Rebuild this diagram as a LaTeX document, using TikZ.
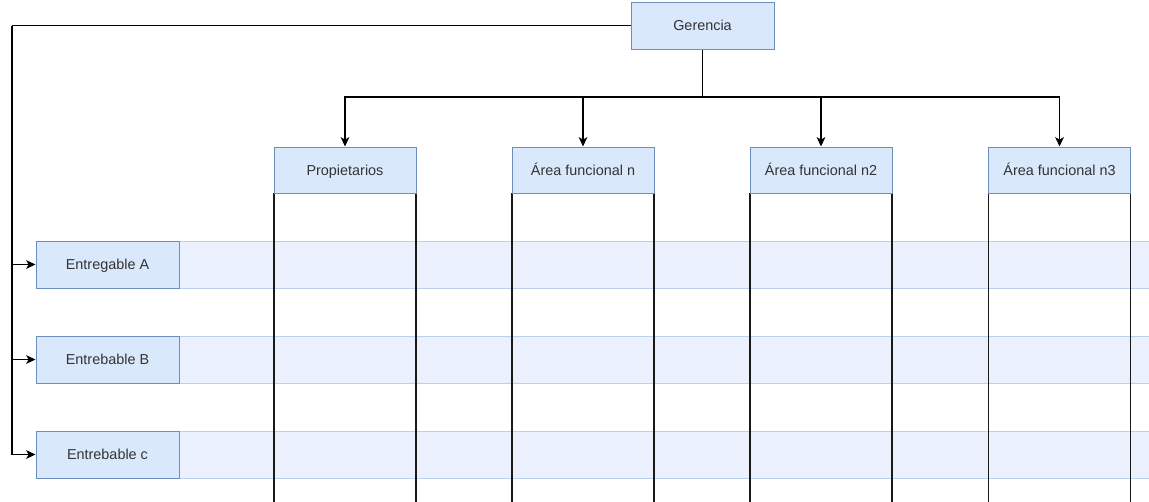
\documentclass[tikz,border=0pt]{standalone}
\usepackage{fontspec}
\setmainfont{Liberation Sans}
\usetikzlibrary{arrows.meta}
\definecolor{boxfill}{HTML}{DAE8FC}
\definecolor{boxline}{HTML}{6C8EBF}
\definecolor{bandfill}{HTML}{EAF1FC}
\definecolor{bandline}{HTML}{BCD0EB}
\definecolor{txt}{HTML}{333333}
\tikzset{
  px/.style={x=0.75pt,y=-0.75pt},
  bluebox/.style={draw=boxline,fill=boxfill,line width=0.75pt,text=txt,
    font=\fontsize{10.8}{13}\selectfont,inner sep=0pt,
    text height=8.5pt,text depth=0.7pt},
  header/.style={bluebox,minimum width=106.5pt,minimum height=34.5pt},
  rowbox/.style={bluebox,minimum width=107.25pt,minimum height=35.25pt},
  band/.style={draw=bandline,fill=bandfill,line width=0.75pt},
  colline/.style={draw=black!90,line width=0.9pt},
  link/.style={draw=black,line width=0.9pt},
  arrowlink/.style={link,-{Stealth[length=7pt,width=6.5pt,inset=1.8pt]}},
}
\begin{document}
\begin{tikzpicture}[px]
\useasboundingbox (0,0) rectangle (1149,501);
\clip (0,0) rectangle (1149,501);

% horizontal bands for each deliverable
\foreach \yc in {264.5,359.5,454.5}
  \path[band] (179,\yc-23.5) rectangle (1160,\yc+23.5);

% column bodies below the headers
\foreach \xc in {345,583,821,1059.5}{
  \draw[colline] (\xc-71,193) -- (\xc-71,510);
  \draw[colline] (\xc+71,193) -- (\xc+71,510);
}

% top node
\node[bluebox,minimum width=107.25pt,minimum height=35.25pt] (ger) at (702.5,25.5) {Gerencia};

% column headers
\node[header] (h1) at (345,170) {Propietarios};
\node[header] (h2) at (583,170) {Área funcional n};
\node[header] (h3) at (821,170) {Área funcional n2};
\node[header] (h4) at (1059.5,170) {Área funcional n3};

% deliverables
\node[rowbox] (ra) at (107.5,264.5) {Entregable A};
\node[rowbox] (rb) at (107.5,359.5) {Entrebable B};
\node[rowbox] (rc) at (107.5,454.5) {Entrebable c};

% tree from the top node to the headers
\coordinate (bus) at (702.5,97);
\draw[link] (ger.south) -- (bus);
\foreach \h in {h1,h2,h3,h4}
  \draw[arrowlink] (bus) -| (\h.north);

% left connector from the top node to the deliverables
\coordinate (lft) at (12,25.5);
\draw[link] (ger.west) -- (lft);
\foreach \r in {ra,rb,rc}
  \draw[arrowlink] (lft) |- (\r.west);
\end{tikzpicture}
\end{document}
